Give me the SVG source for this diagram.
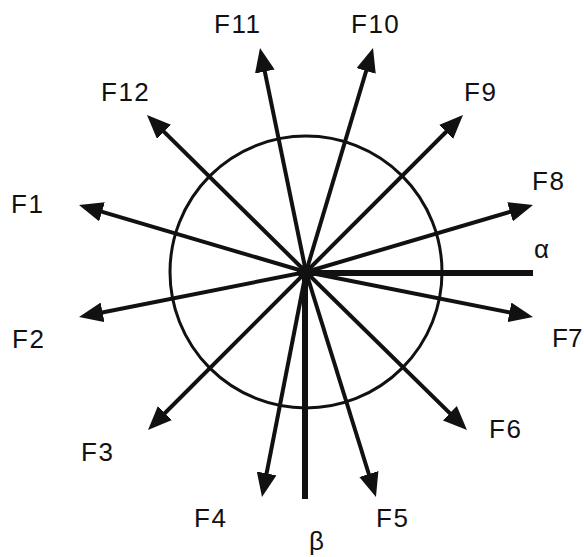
<svg xmlns="http://www.w3.org/2000/svg" width="584" height="557" viewBox="0 0 584 557">
<style>
.lbl{font-family:"Liberation Sans",Arial,sans-serif;font-size:26px;fill:#111;letter-spacing:1.5px}
.arr{stroke:#111;stroke-width:4;fill:none;marker-end:url(#ah)}
.axis{stroke:#111;stroke-width:6;fill:none}
</style>
<defs>
<marker id="ah" viewBox="0 0 24 20" markerWidth="24" markerHeight="20" refX="12" refY="10" markerUnits="userSpaceOnUse" orient="auto">
<path d="M0,0 L24,10 L0,20 Z" fill="#111"/>
</marker>
</defs>
<rect width="584" height="557" fill="#fff"/>
<g id="circle"><circle cx="306" cy="272" r="136" fill="none" stroke="#111" stroke-width="3"/></g>
<g id="connectors">
<line class="arr" x1="306" y1="272" x2="90.5" y2="208.4"/>
<line class="arr" x1="306" y1="272" x2="90.8" y2="314.7"/>
<line class="arr" x1="306" y1="272" x2="156.5" y2="421.5"/>
<line class="arr" x1="306" y1="272" x2="264.3" y2="485.2"/>
<line class="arr" x1="306" y1="272" x2="372.4" y2="485.5"/>
<line class="arr" x1="306" y1="272" x2="458.4" y2="421.6"/>
<line class="arr" x1="306" y1="272" x2="521.2" y2="314.7"/>
<line class="arr" x1="306" y1="272" x2="521.5" y2="208.4"/>
<line class="arr" x1="306" y1="272" x2="454.5" y2="123.5"/>
<line class="arr" x1="306" y1="272" x2="369.6" y2="59.5"/>
<line class="arr" x1="306" y1="272" x2="262.4" y2="59.8"/>
<line class="arr" x1="306" y1="272" x2="155.5" y2="123.4"/>
<line class="axis" x1="305" y1="273" x2="533" y2="273"/>
<line class="axis" x1="305" y1="272" x2="305" y2="499"/>
<ellipse cx="306" cy="272" rx="9" ry="7" fill="#111"/>
</g>
<g id="F1"><text class="lbl" x="11" y="213">F1</text></g>
<g id="F2"><text class="lbl" x="12" y="348">F2</text></g>
<g id="F3"><text class="lbl" x="81" y="461">F3</text></g>
<g id="F4"><text class="lbl" x="194" y="527">F4</text></g>
<g id="F5"><text class="lbl" x="376" y="527">F5</text></g>
<g id="F6"><text class="lbl" x="489" y="438">F6</text></g>
<g id="F7"><text class="lbl" x="552" y="347" style="letter-spacing:0">F7</text></g>
<g id="F8"><text class="lbl" x="532" y="190">F8</text></g>
<g id="F9"><text class="lbl" x="464" y="101">F9</text></g>
<g id="F10"><text class="lbl" x="351" y="33">F10</text></g>
<g id="F11"><text class="lbl" x="214" y="33">F11</text></g>
<g id="F12"><text class="lbl" x="101" y="101">F12</text></g>
<g id="alpha"><text class="lbl" x="534" y="258">α</text></g>
<g id="beta"><text class="lbl" x="309" y="550">β</text></g>
</svg>
